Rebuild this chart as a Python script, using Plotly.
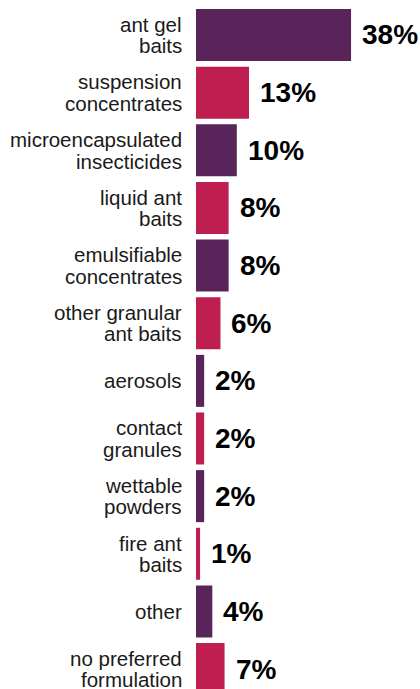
import plotly.graph_objects as go

categories = [
    "ant gel<br>baits",
    "suspension<br>concentrates",
    "microencapsulated<br>insecticides",
    "liquid ant<br>baits",
    "emulsifiable<br>concentrates",
    "other granular<br>ant baits",
    "aerosols",
    "contact<br>granules",
    "wettable<br>powders",
    "fire ant<br>baits",
    "other",
    "no preferred<br>formulation",
]
values = [38, 13, 10, 8, 8, 6, 2, 2, 2, 1, 4, 7]
value_labels = ["38%", "13%", "10%", "8%", "8%", "6%", "2%", "2%", "2%", "1%", "4%", "7%"]

PURPLE = "#58245A"
CRIMSON = "#BE1E50"
colors = [PURPLE if i % 2 == 0 else CRIMSON for i in range(len(categories))]

fig = go.Figure(
    go.Bar(
        x=values,
        y=categories,
        orientation="h",
        marker=dict(color=colors, line=dict(width=0)),
        width=0.902,
        hoverinfo="skip",
    )
)

annotations = []
LINE_H = 21.5
for cat, val, lab in zip(categories, values, value_labels):
    lines = cat.split("<br>")
    n = len(lines)
    for i, line in enumerate(lines):
        annotations.append(dict(
            x=0, xref="paper", y=cat, yref="y",
            text=line, showarrow=False,
            xanchor="right", yanchor="middle",
            xshift=-12, yshift=((n - 1) / 2 - i) * LINE_H,
            font=dict(family="Liberation Sans, Arial, sans-serif", size=20.5, color="#1a1a1a"),
        ))
    annotations.append(dict(
        x=val, xref="x", y=cat, yref="y",
        text="<b>" + lab + "</b>", showarrow=False,
        xanchor="left", yanchor="middle", xshift=9,
        font=dict(family="Liberation Sans, Arial, sans-serif", size=28, color="#000000"),
    ))

fig.update_layout(
    width=420, height=689,
    margin=dict(l=196, r=0, t=0, b=0),
    paper_bgcolor="white", plot_bgcolor="white",
    showlegend=False,
    xaxis=dict(range=[0, 54.9], visible=False, fixedrange=True),
    yaxis=dict(
        type="category",
        categoryorder="array", categoryarray=categories,
        range=[11.346, -0.607],
        showticklabels=False, showgrid=False, zeroline=False, showline=False,
        ticks="", fixedrange=True,
    ),
    annotations=annotations,
)

fig.write_html("out.html")
